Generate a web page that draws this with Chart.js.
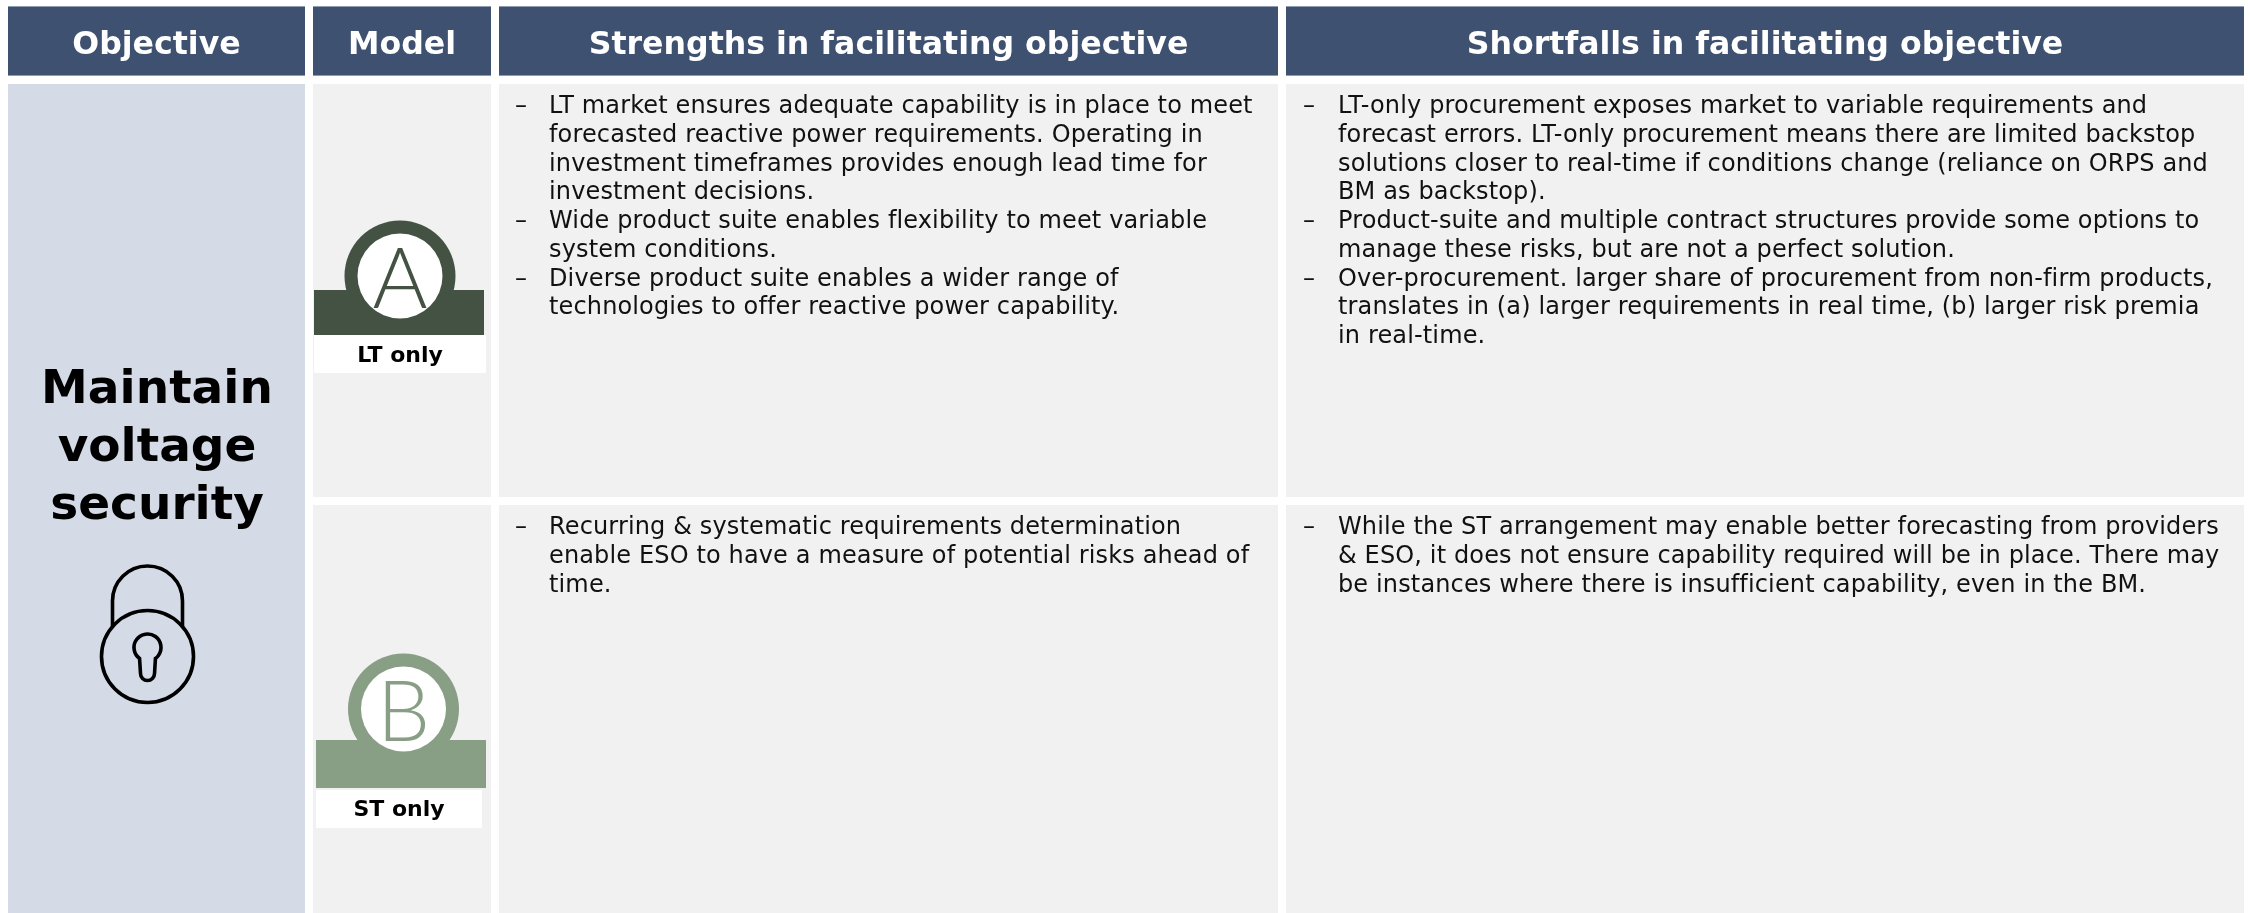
<!DOCTYPE html>
<html>
<head>
<meta charset="utf-8">
<title>Maintain voltage security</title>
<script src="https://cdn.jsdelivr.net/npm/chart.js@4"></script>
<style>
  html, body { margin: 0; padding: 0; background: #fff; }
  canvas { display: block; }
</style>
</head>
<body>
<canvas id="tableChart" width="2250" height="913"></canvas>
<script>
// table content
const headers = ["Objective", "Model", "Strengths in facilitating objective", "Shortfalls in facilitating objective"];
const objectiveLines = ["Maintain", "voltage", "security"];
const modelLetters = ["A", "B"];
const modelNames = ["LT only", "ST only"];
const strengthsLT = [
  ["LT market ensures adequate capability is in place to meet", "forecasted reactive power requirements. Operating in", "investment timeframes provides enough lead time for", "investment decisions."],
  ["Wide product suite enables flexibility to meet variable", "system conditions."],
  ["Diverse product suite enables a wider range of", "technologies to offer reactive power capability."]
];
const shortfallsLT = [
  ["LT-only procurement exposes market to variable requirements and", "forecast errors. LT-only procurement means there are limited backstop", "solutions closer to real-time if conditions change (reliance on ORPS and", "BM as backstop)."],
  ["Product-suite and multiple contract structures provide some options to", "manage these risks, but are not a perfect solution."],
  ["Over-procurement. larger share of procurement from non-firm products,", "translates in (a) larger requirements in real time, (b) larger risk premia", "in real-time."]
];
const strengthsST = [
  ["Recurring & systematic requirements determination", "enable ESO to have a measure of potential risks ahead of", "time."]
];
const shortfallsST = [
  ["While the ST arrangement may enable better forecasting from providers", "& ESO, it does not ensure capability required will be in place. There may", "be instances where there is insufficient capability, even in the BM."]
];

// layout, in page pixels
const columns = [[8, 305], [313, 491], [499, 1278], [1286, 2244]];
const headerBand = [6, 76];
const rowBands = [[84, 497], [505, 913]];
const FONT = '"DejaVu Sans", sans-serif';

const tablePlugin = {
  id: "tablePlugin",
  afterDraw(chart) {
    const c = chart.ctx;
    const sx = chart.scales.x, sy = chart.scales.y;
    const X = v => sx.getPixelForValue(v);
    const Y = v => sy.getPixelForValue(v);

    function box(x0, y0, x1, y1, color) {
      c.fillStyle = color;
      c.fillRect(X(x0), Y(y0), X(x1) - X(x0), Y(y1) - Y(y0));
    }
    function label(text, x, y, font, color, align, spacing) {
      c.font = font;
      c.fillStyle = color;
      c.textAlign = align || "left";
      c.textBaseline = "alphabetic";
      c.letterSpacing = spacing || "0px";
      c.fillText(text, X(x), Y(y));
      c.letterSpacing = "0px";
    }
    function bullets(items, dashX, textX, startY) {
      let y = startY;
      items.forEach(lines => {
        label("\u2013", dashX, y, "24px " + FONT, "#111");
        lines.forEach(line => {
          label(line, textX, y, "24px " + FONT, "#111", "left", "0.14px");
          y += 28.75;
        });
      });
    }
    function badge(letter, name, cx, cy, bandX0, bandX1, bandY0, bandY1, nameX0, nameX1, nameY0, nameY1, color, textX, textY) {
      c.fillStyle = color;
      c.beginPath();
      c.arc(X(cx), Y(cy), 55.5, 0, Math.PI * 2);
      c.fill();
      box(bandX0, bandY0, bandX1, bandY1, color);
      c.fillStyle = "#fff";
      c.beginPath();
      c.arc(X(cx), Y(cy), 42.5, 0, Math.PI * 2);
      c.fill();
      label(letter, cx, cy + 32, "300 84px Lato, " + FONT, color, "center");
      box(nameX0, nameY0, nameX1, nameY1, "#fff");
      label(name, textX, textY, "bold 22px " + FONT, "#000", "center");
    }

    // headers
    columns.forEach((col, i) => {
      box(col[0], headerBand[0], col[1], headerBand[1], "#8f9bb0");
      box(col[0], headerBand[0] + 1, col[1], headerBand[1] - 1, "#3f5170");
      label(headers[i], (col[0] + col[1]) / 2, 54, "bold 31.6px " + FONT, "#fff", "center");
    });

    // cells
    box(columns[0][0], rowBands[0][0], columns[0][1], rowBands[1][1], "#d4dae6");
    rowBands.forEach(row => {
      [1, 2, 3].forEach(i => box(columns[i][0], row[0], columns[i][1], row[1], "#f1f1f1"));
    });

    // objective
    objectiveLines.forEach((line, i) => {
      label(line, 157, 403 + i * 58, "bold 47px " + FONT, "#000", "center");
    });

    // padlock
    c.strokeStyle = "#000";
    c.lineWidth = 3.6;
    c.beginPath();
    c.moveTo(X(112.5), Y(627));
    c.lineTo(X(112.5), Y(601));
    c.arc(X(147.5), Y(601), 35, Math.PI, 0);
    c.lineTo(X(182.5), Y(627));
    c.stroke();
    c.beginPath();
    c.arc(X(147.5), Y(656.5), 46, 0, Math.PI * 2);
    c.stroke();
    c.beginPath();
    c.arc(X(147.5), Y(647.5), 13.5, Math.PI * 0.7, Math.PI * 0.3);
    c.lineTo(X(154.5), Y(674));
    c.arc(X(147.5), Y(673.5), 7, 0, Math.PI);
    c.closePath();
    c.stroke();

    // model badges
    badge(modelLetters[0], modelNames[0], 400, 276, 314, 484, 290, 335, 314, 486, 335, 373, "#435242", 400, 362);
    badge(modelLetters[1], modelNames[1], 403.5, 709, 316, 486, 740, 788, 316, 482, 790, 828, "#889f85", 399, 816);

    // bullet text
    bullets(strengthsLT, 515, 549, 113);
    bullets(shortfallsLT, 1303, 1338, 113);
    bullets(strengthsST, 515, 549, 534);
    bullets(shortfallsST, 1303, 1338, 534);
  }
};

new Chart(document.getElementById("tableChart"), {
  type: "scatter",
  data: { datasets: [] },
  options: {
    responsive: false,
    animation: false,
    layout: { padding: 0 },
    plugins: { legend: { display: false }, tooltip: { enabled: false } },
    scales: {
      x: { type: "linear", min: 0, max: 2250, display: false },
      y: { type: "linear", min: 0, max: 913, reverse: true, display: false }
    }
  },
  plugins: [tablePlugin]
});
</script>
</body>
</html>
